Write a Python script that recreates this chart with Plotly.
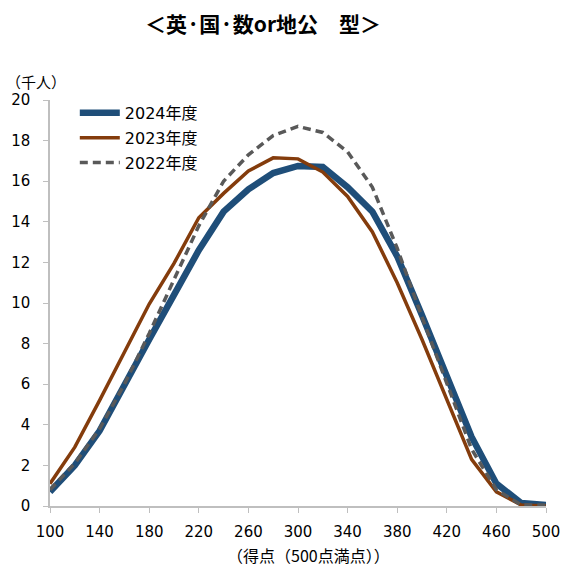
import plotly.graph_objects as go

scores = list(range(100, 501, 20))
y2024 = [0.7, 2.0, 3.7, 6.0, 8.2, 10.4, 12.6, 14.5, 15.6, 16.4, 16.75, 16.7,
         15.7, 14.5, 12.3, 9.4, 6.4, 3.4, 1.1, 0.15, 0.05]
y2023 = [1.1, 2.9, 5.2, 7.6, 9.95, 11.95, 14.2, 15.4, 16.5, 17.15, 17.1, 16.45,
         15.25, 13.5, 11.0, 8.2, 5.3, 2.3, 0.7, 0.05, 0.0]
y2022 = [0.8, 2.1, 3.8, 6.0, 8.5, 11.1, 13.8, 16.0, 17.3, 18.25, 18.7, 18.4,
         17.45, 15.7, 12.7, 9.3, 6.0, 2.8, 0.8, 0.05, 0.05]

names = ["2024年度", "2023年度", "2022年度"]
title_text = "<b>＜英·国·数or地公　型＞</b>"
y_title = "（千人）"
x_title = "（得点（500点満点））"
x_ticks = list(range(100, 501, 40))
y_ticks = list(range(0, 21, 2))

FONT = "DejaVu Sans, Noto Sans CJK JP"
CJK = "Noto Sans CJK JP"

fig = go.Figure()
fig.add_trace(go.Scatter(x=scores, y=y2024, mode="lines", name=names[0], legendgroup="a",
                         line=dict(color="#1F4E79", width=6.5)))
fig.add_trace(go.Scatter(x=scores, y=y2023, mode="lines", name=names[1], legendgroup="b",
                         line=dict(color="#843C0C", width=3.5)))
fig.add_trace(go.Scatter(x=scores, y=y2022, mode="lines", name=names[2], legendgroup="c",
                         line=dict(color="#595959", width=3.5, dash="8px,5px")))

fig.update_layout(
    width=562, height=567,
    margin=dict(l=50, r=16, t=100, b=61),
    plot_bgcolor="white", paper_bgcolor="white",
    font=dict(family=FONT, size=16, color="#000000"),
    title=dict(text=title_text, x=263 / 562, xref="container", y=1 - 25 / 567, yref="container",
               yanchor="middle", xanchor="center", font=dict(size=21, family=CJK, color="#000")),
    showlegend=True,
    legend=dict(x=0.05, y=1.01, xanchor="left", yanchor="top", bgcolor="rgba(0,0,0,0)",
                font=dict(size=16, family=FONT), tracegroupgap=1, itemwidth=40),
    xaxis=dict(range=[100, 500], tickvals=x_ticks, ticks="outside", ticklen=5,
               tickcolor="#BFBFBF", showline=True, linecolor="#BFBFBF", linewidth=1.5,
               showgrid=False, zeroline=False, tickfont=dict(size=15), ticklabelstandoff=6,
               automargin=False),
    yaxis=dict(range=[0, 20], tickvals=y_ticks, ticks="outside", ticklen=5,
               tickcolor="#BFBFBF", showline=True, linecolor="#BFBFBF", linewidth=1.5,
               showgrid=False, zeroline=False, tickfont=dict(size=15), ticklabelstandoff=10,
               automargin=False),
    annotations=[
        dict(text=y_title, xref="paper", yref="paper", x=-0.092, y=(506 - 82) / 406,
             xanchor="left", yanchor="middle", showarrow=False, font=dict(size=15, family=CJK)),
        dict(text=x_title, xref="paper", yref="paper", x=(308 - 50) / 496, y=-49 / 406,
             xanchor="center", yanchor="middle", showarrow=False, font=dict(size=16, family=CJK)),
    ],
)

fig.write_html("out.html")
